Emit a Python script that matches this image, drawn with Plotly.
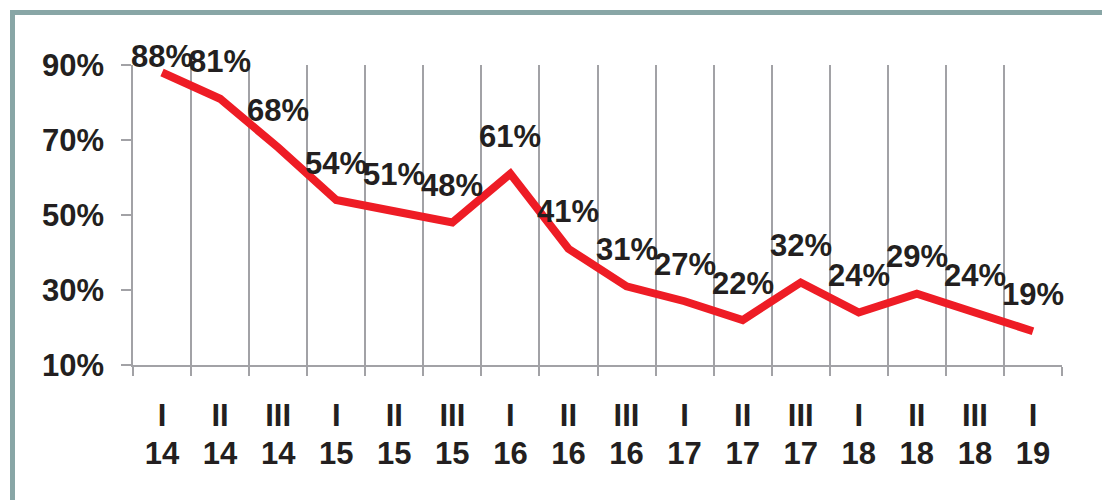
import plotly.graph_objects as go

quarters = ["I", "II", "III", "I", "II", "III", "I", "II", "III", "I", "II", "III", "I", "II", "III", "I"]
years = ["14", "14", "14", "15", "15", "15", "16", "16", "16", "17", "17", "17", "18", "18", "18", "19"]
values = [88, 81, 68, 54, 51, 48, 61, 41, 31, 27, 22, 32, 24, 29, 24, 19]
y_ticks = [10, 30, 50, 70, 90]
y_tick_text = ["10%", "30%", "50%", "70%", "90%"]

categories = [f"{q} {y}" for q, y in zip(quarters, years)]

FONT = "Liberation Sans, Arial, sans-serif"
TXT = "#231f20"
GRID = "#a2a2a6"
RED = "#ee1c25"
FS = 31

fig = go.Figure()
fig.add_trace(go.Scatter(
    x=categories, y=values, mode="lines",
    line=dict(color=RED, width=8),
    hoverinfo="skip", showlegend=False,
))
# invisible trace that carries the second (year) label row
fig.add_trace(go.Scatter(
    x=categories, y=values, mode="lines", xaxis="x2",
    line=dict(color="rgba(0,0,0,0)", width=0),
    hoverinfo="skip", showlegend=False,
))

for i, (c, v) in enumerate(zip(categories, values)):
    fig.add_annotation(
        x=c, y=v, text=f"{v}%", showarrow=False,
        xanchor="center", yanchor="middle",
        yshift=16 if i == 0 else 37,
        font=dict(family=FONT, size=FS, color=TXT, weight="bold"),
    )

# frame (top and left border)
fig.add_shape(
    type="rect", xref="paper", yref="paper",
    x0=(12.5 - 133) / 929, x1=1.3, y0=-0.8, y1=(365 - 12.5) / 300,
    line=dict(color="#88a6a6", width=5), fillcolor="rgba(0,0,0,0)", layer="below",
)

tickfont = dict(family=FONT, size=FS, color=TXT, weight="bold")

fig.update_layout(
    width=1102, height=500,
    margin=dict(l=133, r=40, t=65, b=135),
    paper_bgcolor="white", plot_bgcolor="white",
    font=dict(family=FONT, size=FS, color=TXT, weight="bold"),
    xaxis=dict(
        type="category", tickson="boundaries",
        categoryorder="array", categoryarray=categories,
        tickvals=categories, ticktext=quarters,
        showgrid=True, gridcolor=GRID, gridwidth=1.5,
        showline=True, linecolor=GRID, linewidth=1.5,
        ticks="outside", ticklen=9, tickcolor=GRID, tickwidth=1.5,
        tickfont=tickfont,
        ticklabelstandoff=22,
        range=[-0.5, 15.5], fixedrange=True,
    ),
    xaxis2=dict(
        type="category", overlaying="x", side="bottom",
        categoryorder="array", categoryarray=categories,
        tickvals=categories, ticktext=years,
        showgrid=False, showline=False, ticks="",
        tickfont=tickfont,
        ticklabelstandoff=67,
        range=[-0.5, 15.5], fixedrange=True,
    ),
    yaxis=dict(
        range=[10, 90], tickvals=y_ticks, ticktext=y_tick_text,
        showgrid=False, zeroline=False,
        showline=True, linecolor=GRID, linewidth=1.5,
        ticks="outside", ticklen=10, tickcolor=GRID, tickwidth=1.5,
        tickfont=tickfont,
        ticklabelstandoff=11,
        fixedrange=True,
    ),
)

fig.write_html(
    "out.html",
    config={"displayModeBar": False},
    post_script="document.body.style.margin='0';document.body.style.overflow='hidden';",
)
